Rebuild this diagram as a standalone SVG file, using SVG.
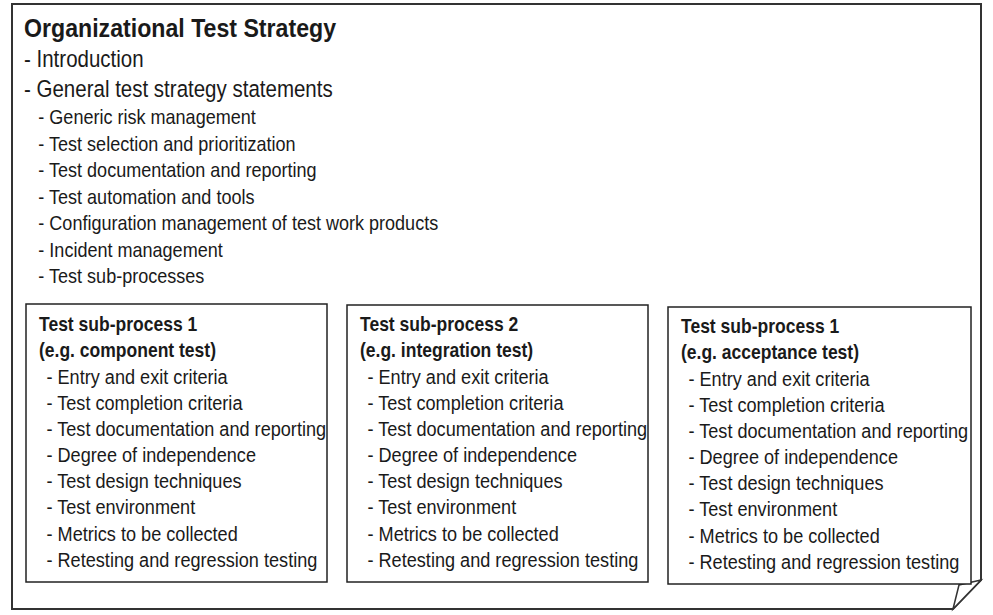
<svg xmlns="http://www.w3.org/2000/svg" width="993" height="615" viewBox="0 0 993 615">
  <style>
    text { font-family: "Liberation Sans", Arial, sans-serif; fill: #1a1a1a; }
    .title { font-size: 26.3px; font-weight: bold; }
    .l1 { font-size: 23.3px; }
    .l2 { font-size: 20.5px; }
    .head { font-size: 19.9px; font-weight: bold; }
    .item { font-size: 20.6px; }
    .frame { fill: #ffffff; stroke: #333333; stroke-width: 2; stroke-linejoin: miter; }
    .box { fill: #ffffff; stroke: #222222; stroke-width: 1.5; }
    .fold { fill: #ffffff; stroke: #333333; stroke-width: 1.5; stroke-linejoin: miter; }
  </style>

  <rect width="993" height="615" fill="#ffffff"/>

  <!-- Outer document with folded bottom-right corner -->
  <g id="strategy-document">
    <path class="frame" d="M12,4 H981 V580 L953,609 H12 Z"/>
    <path class="fold" d="M981,580 L959,585 L953,609 Z"/>
    <g transform="translate(24,0) scale(0.88,1)">
      <text class="title" x="0" y="37">Organizational Test Strategy</text>
      <text class="l1" x="0" y="67">- Introduction</text>
      <text class="l1" x="0" y="97">- General test strategy statements</text>
      <text class="l2" x="16.3" y="124">- Generic risk management</text>
      <text class="l2" x="16.3" y="151">- Test selection  and prioritization</text>
      <text class="l2" x="16.3" y="177.5">- Test documentation and reporting</text>
      <text class="l2" x="16.3" y="204">- Test automation  and tools</text>
      <text class="l2" x="16.3" y="230.5">- Configuration management of test work products</text>
      <text class="l2" x="16.3" y="257">- Incident management</text>
      <text class="l2" x="16.3" y="283.5">- Test sub-processes</text>
    </g>
  </g>

  <!-- Sub-process 1 -->
  <g id="subprocess-component">
    <rect class="box" x="26" y="304" width="301" height="278"/>
    <g transform="translate(39,0) scale(0.88,1)">
      <text class="head" x="0" y="331">Test sub-process 1</text>
      <text class="head" x="0" y="357">(e.g. component test)</text>
      <text class="item" x="8.5" y="384">- Entry and exit criteria</text>
      <text class="item" x="8.5" y="410">- Test completion  criteria</text>
      <text class="item" x="8.5" y="436.5">- Test documentation and reporting</text>
      <text class="item" x="8.5" y="462.5">- Degree of independence</text>
      <text class="item" x="8.5" y="488.5">- Test design techniques</text>
      <text class="item" x="8.5" y="514.5">- Test environment</text>
      <text class="item" x="8.5" y="541">- Metrics to be collected</text>
      <text class="item" x="8.5" y="567">- Retesting and regression testing</text>
    </g>
  </g>

  <!-- Sub-process 2 -->
  <g id="subprocess-integration">
    <rect class="box" x="347" y="305" width="301" height="277"/>
    <g transform="translate(360,0) scale(0.88,1)">
      <text class="head" x="0" y="331">Test sub-process 2</text>
      <text class="head" x="0" y="357">(e.g. integration test)</text>
      <text class="item" x="8.5" y="384">- Entry and exit criteria</text>
      <text class="item" x="8.5" y="410">- Test completion  criteria</text>
      <text class="item" x="8.5" y="436.5">- Test documentation and reporting</text>
      <text class="item" x="8.5" y="462.5">- Degree of independence</text>
      <text class="item" x="8.5" y="488.5">- Test design techniques</text>
      <text class="item" x="8.5" y="514.5">- Test environment</text>
      <text class="item" x="8.5" y="541">- Metrics to be collected</text>
      <text class="item" x="8.5" y="567">- Retesting and regression testing</text>
    </g>
  </g>

  <!-- Sub-process 3 -->
  <g id="subprocess-acceptance">
    <rect class="box" x="668" y="307" width="303" height="277"/>
    <g transform="translate(681,0) scale(0.88,1)">
      <text class="head" x="0" y="333">Test sub-process 1</text>
      <text class="head" x="0" y="359">(e.g. acceptance test)</text>
      <text class="item" x="8.5" y="386">- Entry and exit criteria</text>
      <text class="item" x="8.5" y="412">- Test completion  criteria</text>
      <text class="item" x="8.5" y="438.5">- Test documentation and reporting</text>
      <text class="item" x="8.5" y="464.5">- Degree of independence</text>
      <text class="item" x="8.5" y="490.5">- Test design techniques</text>
      <text class="item" x="8.5" y="516.5">- Test environment</text>
      <text class="item" x="8.5" y="543">- Metrics to be collected</text>
      <text class="item" x="8.5" y="569">- Retesting and regression testing</text>
    </g>
  </g>

  <!-- No connectors in this figure -->
  <g id="connectors"/>
</svg>
